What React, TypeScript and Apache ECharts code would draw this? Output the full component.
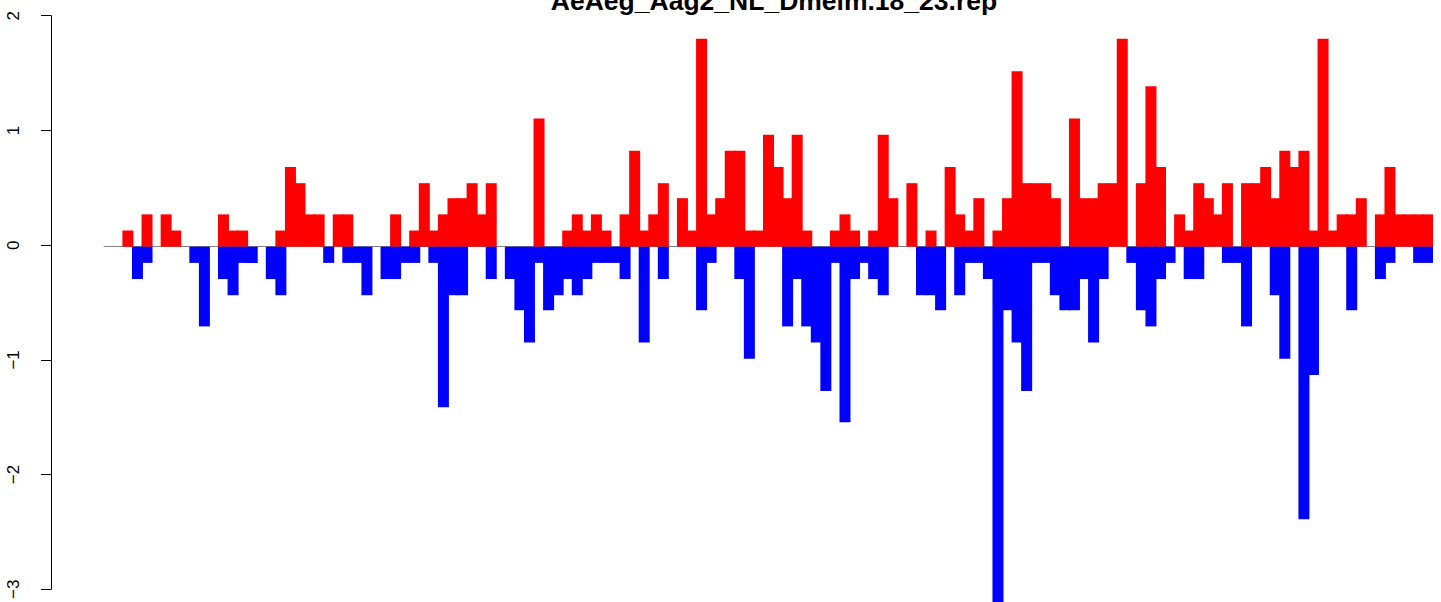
import React, { useEffect, useRef } from 'react';
import * as echarts from 'echarts';

const chartTitle = 'AeAeg_Aag2_NL_Dmelm.18_23.rep';

// 139 consecutive bins along the x axis
const binCount = 139;
const bins: string[] = Array.from({ length: binCount }, (_, i) => String(i + 1));

// positive (red) values per bin
const upValues: number[] = [
  0, 0, 0.14, 0, 0.28, 0, 0.28, 0.14, 0, 0,
  0, 0, 0.28, 0.14, 0.14, 0, 0, 0, 0.14, 0.69,
  0.55, 0.28, 0.28, 0, 0.28, 0.28, 0, 0, 0, 0,
  0.28, 0, 0.14, 0.55, 0.14, 0.28, 0.42, 0.42, 0.55, 0.28,
  0.55, 0, 0, 0, 0, 1.11, 0, 0, 0.14, 0.28,
  0.14, 0.28, 0.14, 0, 0.28, 0.83, 0.14, 0.28, 0.55, 0,
  0.42, 0.14, 1.8, 0.28, 0.42, 0.83, 0.83, 0.14, 0.14, 0.97,
  0.69, 0.42, 0.97, 0.14, 0, 0, 0.14, 0.28, 0.14, 0,
  0.14, 0.97, 0.42, 0, 0.55, 0, 0.14, 0, 0.69, 0.28,
  0.14, 0.42, 0, 0.14, 0.42, 1.52, 0.55, 0.55, 0.55, 0.42,
  0, 1.11, 0.42, 0.42, 0.55, 0.55, 1.8, 0, 0.55, 1.39,
  0.69, 0, 0.28, 0.14, 0.55, 0.42, 0.28, 0.55, 0, 0.55,
  0.55, 0.69, 0.42, 0.83, 0.69, 0.83, 0.14, 1.8, 0.14, 0.28,
  0.28, 0.42, 0, 0.28, 0.69, 0.28, 0.28, 0.28, 0.28,
];

// negative (blue) values per bin
const downValues: number[] = [
  0, 0, 0, -0.28, -0.14, 0, 0, 0, 0, -0.14,
  -0.69, 0, -0.28, -0.42, -0.14, -0.14, 0, -0.28, -0.42, 0,
  0, 0, 0, -0.14, 0, -0.14, -0.14, -0.42, 0, -0.28,
  -0.28, -0.14, -0.14, 0, -0.14, -1.39, -0.42, -0.42, 0, 0,
  -0.28, 0, -0.28, -0.55, -0.83, -0.14, -0.55, -0.42, -0.28, -0.42,
  -0.28, -0.14, -0.14, -0.14, -0.28, 0, -0.83, 0, -0.28, 0,
  0, 0, -0.55, -0.14, 0, 0, -0.28, -0.97, 0, 0,
  0, -0.69, -0.28, -0.69, -0.83, -1.25, -0.14, -1.52, -0.28, -0.14,
  -0.28, -0.42, 0, 0, 0, -0.42, -0.42, -0.55, 0, -0.42,
  -0.14, -0.14, -0.28, -3.1, -0.55, -0.83, -1.25, -0.14, -0.14, -0.42,
  -0.55, -0.55, -0.28, -0.83, -0.28, 0, 0, -0.14, -0.55, -0.69,
  -0.28, -0.14, 0, -0.28, -0.28, 0, 0, -0.14, -0.14, -0.69,
  0, 0, -0.42, -0.97, 0, -2.36, -1.11, 0, 0, 0,
  -0.55, 0, 0, -0.28, -0.14, 0, 0, -0.14, -0.14,
];

// y axis tick values
const yTicks: number[] = [-3, -2, -1, 0, 1, 2];

const FONT = '"Liberation Sans", Arial, Helvetica, sans-serif';

export default function App() {
  const ref = useRef<HTMLDivElement>(null);

  useEffect(() => {
    if (!ref.current) return;
    const chart = echarts.init(ref.current, null, { renderer: 'svg' });
    const toData = (arr: number[]) => arr.map((v) => (v === 0 ? '-' : v));

    chart.setOption({
      animation: false,
      backgroundColor: '#ffffff',
      graphic: [
        {
          type: 'text',
          x: 774,
          y: 1,
          z: 10,
          style: {
            text: chartTitle,
            font: `bold 26.5px ${FONT}`,
            fill: '#000000',
            textAlign: 'center',
            textVerticalAlign: 'middle',
          },
        },
      ],
      grid: [
        { left: 104, right: 8, top: 0, bottom: 0, containLabel: false },
        { left: 51, width: 10, top: 15.7, bottom: 8.8, containLabel: false },
      ],
      xAxis: [
        {
          type: 'category',
          gridIndex: 0,
          data: bins,
          axisLine: { show: true, onZero: true, lineStyle: { color: '#808080', width: 1 } },
          axisTick: { show: false },
          axisLabel: { show: false },
          splitLine: { show: false },
        },
        { type: 'value', gridIndex: 1, show: false, min: 0, max: 1 },
      ],
      yAxis: [
        {
          type: 'value',
          gridIndex: 0,
          min: -3.076,
          max: 2.136,
          show: false,
          splitLine: { show: false },
        },
        {
          type: 'value',
          gridIndex: 1,
          min: yTicks[0],
          max: yTicks[yTicks.length - 1],
          interval: 1,
          axisLine: { show: true, lineStyle: { color: '#000000', width: 1 } },
          axisTick: { show: true, length: 10, lineStyle: { color: '#000000', width: 1 } },
          axisLabel: {
            rotate: 90,
            margin: 29,
            fontSize: 17,
            color: '#000000',
            fontFamily: FONT,
            formatter: (v: number) => String(v).replace('-', '\u2212'),
          },
          splitLine: { show: false },
        },
      ],
      series: [
        {
          name: 'up',
          type: 'bar',
          xAxisIndex: 0,
          yAxisIndex: 0,
          data: toData(upValues),
          itemStyle: { color: '#ff0000' },
          barWidth: 11,
          barGap: '-100%',
        },
        {
          name: 'down',
          type: 'bar',
          xAxisIndex: 0,
          yAxisIndex: 0,
          data: toData(downValues),
          itemStyle: { color: '#0000ff' },
          barWidth: 11,
          barGap: '-100%',
        },
      ],
    });

    return () => {
      chart.dispose();
    };
  }, []);

  return (
    <div
      ref={ref}
      style={{ position: 'fixed', left: 0, top: 0, width: '1441px', height: '602px', background: '#fff' }}
    />
  );
}
